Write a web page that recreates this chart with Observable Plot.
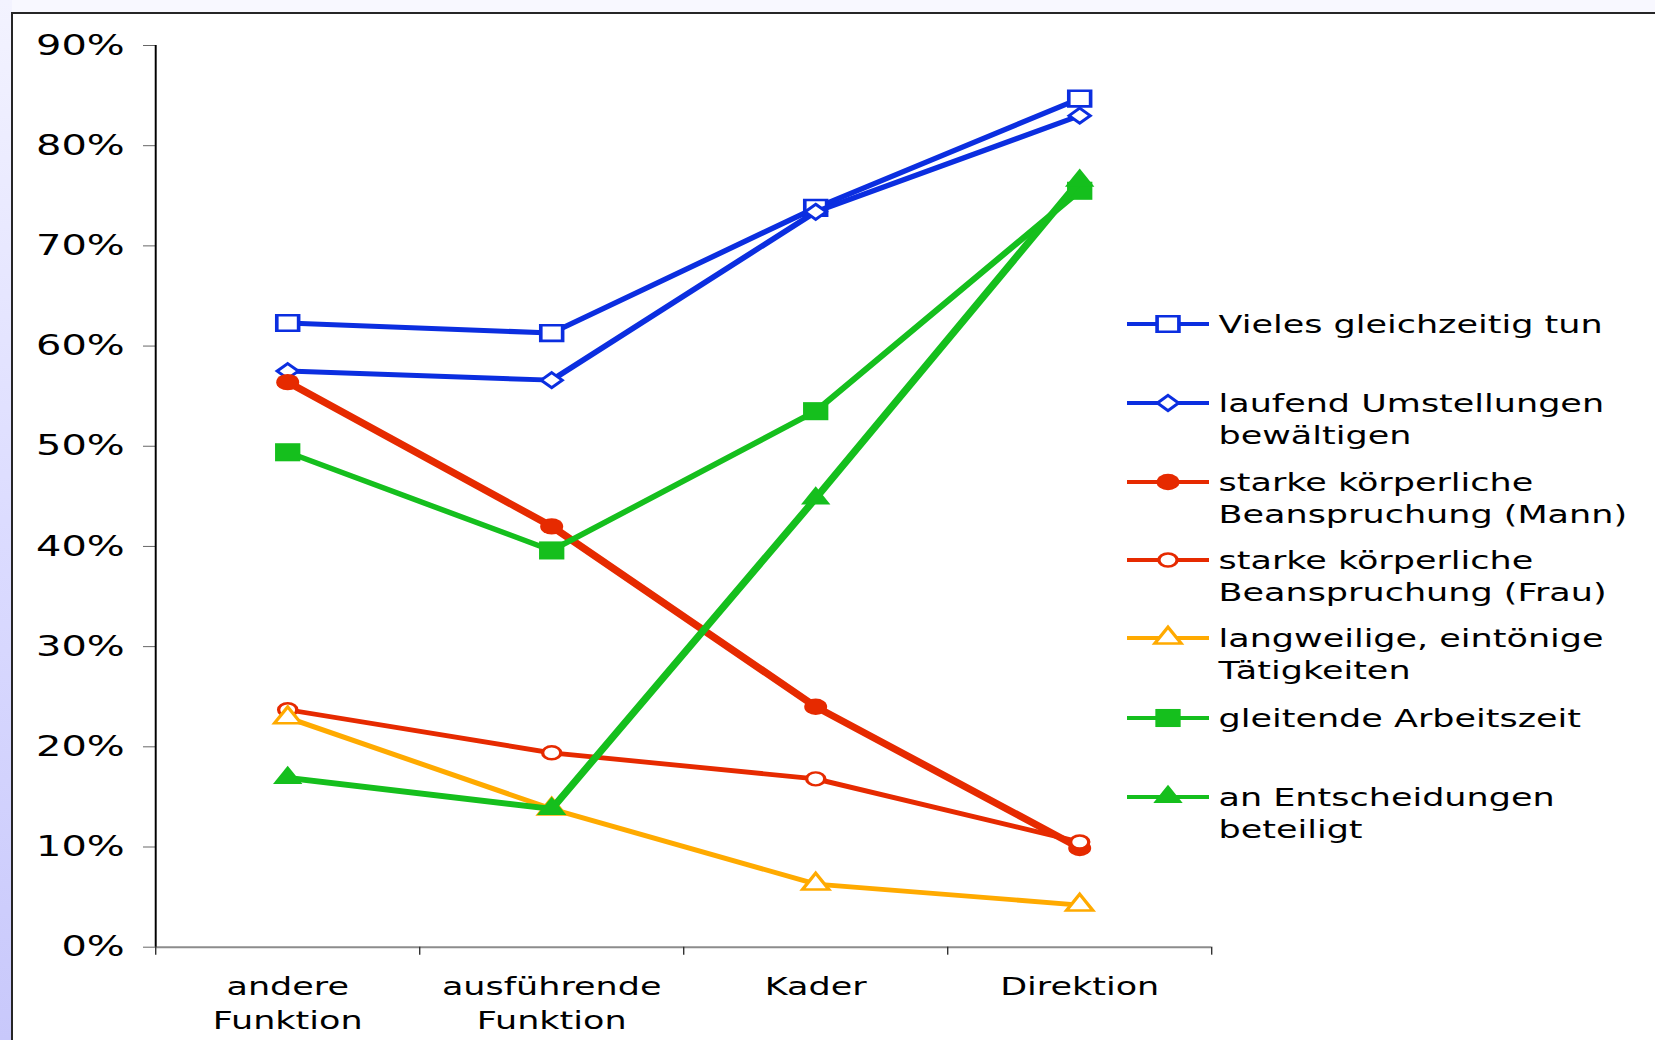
<!DOCTYPE html>
<html>
<head>
<meta charset="utf-8">
<script src="https://cdn.jsdelivr.net/npm/d3@7"></script>
<script src="https://cdn.jsdelivr.net/npm/@observablehq/plot@0.6"></script>
<style>
  html, body { margin: 0; padding: 0; }
  body { width: 1655px; height: 1040px; position: relative; overflow: hidden; background: #f8f8ff; font-family: "DejaVu Sans", Verdana, sans-serif; }
  #leftstrip { position: absolute; left: 0; top: 0; width: 12px; height: 1040px; background: linear-gradient(to bottom, #f3f3ff 0%, #dcdcff 50%, #c8c8fb 100%); }
  #frame { position: absolute; left: 11px; top: 12px; right: 0; bottom: 0; background: #fff; border-left: 2.5px solid #262626; border-top: 2.5px solid #262626; }
  #stretch { position: absolute; left: 0; top: 0; height: 1040px; transform-origin: 0 0; }
  #stretch > svg { position: absolute; left: 0; top: 0; }
</style>
</head>
<body>
<div id="leftstrip"></div>
<div id="frame"></div>
<div id="stretch"></div>
<script>
// ---- data ----
const categories = ["andere\nFunktion", "ausführende\nFunktion", "Kader", "Direktion"];
const seriesNames = [
  "Vieles gleichzeitig tun",
  "laufend Umstellungen\nbewältigen",
  "starke körperliche\nBeanspruchung (Mann)",
  "starke körperliche\nBeanspruchung (Frau)",
  "langweilige, eintönige\nTätigkeiten",
  "gleitende Arbeitszeit",
  "an Entscheidungen\nbeteiligt"
];
const vielesGleichzeitig = [0.623, 0.613, 0.738, 0.847];
const laufendUmstellungen = [0.575, 0.566, 0.734, 0.830];
const koerperlichMann = [0.564, 0.420, 0.240, 0.099];
const koerperlichFrau = [0.237, 0.194, 0.168, 0.105];
const langweilig = [0.229, 0.138, 0.063, 0.042];
const gleitendeArbeitszeit = [0.494, 0.396, 0.535, 0.755];
const entscheidungen = [0.169, 0.138, 0.448, 0.765];
const yTicks = [0, 0.1, 0.2, 0.3, 0.4, 0.5, 0.6, 0.7, 0.8, 0.9];
const xEdges = [-0.5, 0.5, 1.5, 2.5, 3.5];

const seriesValues = [vielesGleichzeitig, laufendUmstellungen, koerperlichMann, koerperlichFrau, langweilig, gleitendeArbeitszeit, entscheidungen];

// ---- styles ----
const BLUE = "#0b2ee0", RED = "#e62a00", ORANGE = "#ffaa00", GREEN = "#15bf1d";
const styles = [
  {color: BLUE,   width: 5,   symbol: "square",   fill: "white", r: 8.8, sw: 2.6},
  {color: BLUE,   width: 5,   symbol: "diamond2", fill: "white", r: 6.8, sw: 2.6},
  {color: RED,    width: 6.5, symbol: "circle",   fill: RED,     r: 8.2, sw: 0},
  {color: RED,    width: 4.8, symbol: "circle",   fill: "white", r: 6.5, sw: 2.4},
  {color: ORANGE, width: 4.8, symbol: "triangle", fill: "white", r: 7,   sw: 2.6},
  {color: GREEN,  width: 5.2, symbol: "square",   fill: GREEN,   r: 10.2, sw: 0},
  {color: GREEN,  width: 5.8, symbol: "triangle", fill: GREEN,   r: 7.8, sw: 0}
];

const S = 1.4;               // horizontal stretch of the original picture
const W = 1655 / S;
const H = 1040;
document.getElementById("stretch").style.width = W + "px";
document.getElementById("stretch").style.transform = `scaleX(${S})`;

const rows = seriesValues.map((vals, s) => vals.map((v, i) => ({s, i, v})));

const marks = [
  Plot.ruleY([0], {stroke: "#8c8c8c", strokeWidth: 2}),
  Plot.axisY({ticks: yTicks, tickFormat: d3.format(".0%"), tickSize: 8.6, tickPadding: 13.5, fontSize: 28.5, stroke: "#666", fill: "#000", label: null}),
  Plot.axisX({ticks: xEdges, tickSize: 8, tickFormat: () => "", stroke: "#333", label: null}),
  Plot.ruleX([-0.5], {stroke: "#000", strokeWidth: 1.4}),
  Plot.text(categories, {x: (d, i) => i, frameAnchor: "bottom", lineAnchor: "top", dy: 24, fontSize: 25, lineHeight: 1.35, fill: "#000"})
];
rows.forEach((data, s) => {
  const st = styles[s];
  marks.push(Plot.line(data, {x: "i", y: "v", stroke: st.color, strokeWidth: st.width, strokeLinejoin: "round"}));
  marks.push(Plot.dot(data, {x: "i", y: "v", symbol: () => st.symbol, r: st.r, fill: st.fill, stroke: st.color, strokeWidth: st.sw}));
});

const chart = Plot.plot({
  width: W,
  height: H,
  marginLeft: 155 / S,
  marginRight: W - 1211 / S,
  marginTop: 45,
  marginBottom: H - 946.7,
  style: {background: "transparent", fontFamily: "DejaVu Sans, Verdana, sans-serif", overflow: "visible"},
  x: {domain: [-0.5, 3.5], axis: null},
  y: {domain: [0, 0.9], axis: null},
  symbol: {type: "identity"},
  marks
});
document.getElementById("stretch").appendChild(chart);

// ---- legend (drawn in the same stretched frame) ----
const legendTop = [324, 403, 482, 560, 638, 718, 797];
const leg = d3.select("#stretch").append("svg").attr("width", W).attr("height", H);
const lx0 = 1127 / S, lx1 = 1209 / S, mx = 1168 / S, tx = 1218.5 / S;
const symType = {square: d3.symbolSquare, diamond2: d3.symbolDiamond2, circle: d3.symbolCircle, triangle: d3.symbolTriangle};
seriesNames.forEach((name, s) => {
  const st = styles[s];
  const y = legendTop[s];
  const g = leg.append("g");
  g.append("line").attr("x1", lx0).attr("x2", lx1).attr("y1", y).attr("y2", y)
    .attr("stroke", st.color).attr("stroke-width", 4);
  g.append("path").attr("transform", `translate(${mx},${y})`)
    .attr("d", d3.symbol(symType[st.symbol], Math.PI * st.r * st.r)())
    .attr("fill", st.fill).attr("stroke", st.color).attr("stroke-width", st.sw);
  const t = g.append("text").attr("x", tx).attr("y", y).attr("font-size", 25)
    .attr("font-family", "DejaVu Sans, Verdana, sans-serif").attr("fill", "#000");
  name.split("\n").forEach((line, k) => {
    t.append("tspan").attr("x", tx).attr("dy", k === 0 ? "0.36em" : "31.7px").text(line);
  });
});
</script>
</body>
</html>
